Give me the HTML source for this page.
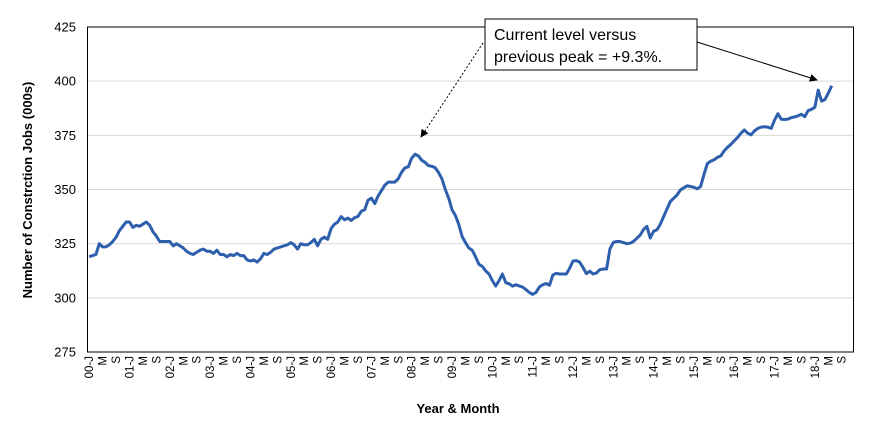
<!DOCTYPE html>
<html><head><meta charset="utf-8"><style>
body{margin:0;background:#fff;}
svg text{font-family:"Liberation Sans",sans-serif;fill:#000;}
</style></head><body>
<svg id="chart" width="870" height="436" viewBox="0 0 870 436" xmlns="http://www.w3.org/2000/svg">
<defs>
<marker id="ah" viewBox="0 0 10 10" refX="9" refY="5" markerWidth="8" markerHeight="8" orient="auto"><path d="M0,0 L10,5 L0,10 z" fill="#000"/></marker>
</defs>
<g id="grid"></g>
<g id="yticks"></g>
<g id="xticks"></g>
<path id="series" fill="none" stroke="#2e5fad" stroke-width="3" stroke-linejoin="round"/>
<rect x="87.5" y="27" width="766" height="325" fill="none" stroke="#000" stroke-width="1"/>
<text transform="translate(32,190) rotate(-90)" text-anchor="middle" font-size="13" font-weight="bold">Number of Constrction Jobs (000s)</text>
<text x="458" y="413" text-anchor="middle" font-size="13" font-weight="bold">Year &amp; Month</text>
<line x1="483" y1="43" x2="421" y2="137" stroke="#000" stroke-width="1" stroke-dasharray="2,2" marker-end="url(#ah)"/>
<line x1="697" y1="42" x2="817" y2="80" stroke="#000" stroke-width="1" marker-end="url(#ah)"/>
<g>
<rect x="485" y="19" width="212" height="51" fill="#fff" stroke="#000" stroke-width="1"/>
<text x="494" y="40" font-size="16">Current level versus</text>
<text x="494" y="62" font-size="16">previous peak =  +9.3%.</text>
</g>
</svg>
<script>
const yTicks=[275,300,325,350,375,400,425];
const yearLabels=["00","01","02","03","04","05","06","07","08","09","10","11","12","13","14","15","16","17","18"];
const monthLabels=["J","M","S"];
const values=[
319,319.5,320,325,323.5,323.5,324.5,326,328,331,333,335,
335,332.5,333.5,333,334,335,333.5,330.5,328.5,326,326,326,
326,324,325,324,323,321.5,320.5,320,321,322,322.5,321.5,
321.5,320.5,322,320,320,319,320,319.5,320.5,319.5,319.5,317.5,
317,317.5,316.5,318,320.5,320,321,322.5,323,323.5,324,324.5,
325.5,324.5,322.5,325,324.5,324.5,325.5,327,324,327,328,327,
332,334,335,337.5,336,336.8,335.7,337,337.6,340,340.7,345,
346,343.5,347,349.5,352,353.4,353.4,353.4,355,358,360,360.5,
364.5,366.3,365.5,363.5,362.5,361,360.7,360,357.8,355,350,346,
340.7,338,334,328.3,325.5,323,322,319,315.5,314.5,312.5,311,
308,305.4,308,311,307,306.5,305.4,306,305.5,305,303.8,302.5,
301.6,302.5,305,306,306.6,305.8,310.5,311.3,311,311,311,313.6,
317,317.2,316.5,314,311.2,312.3,311,311.5,313,313.3,313.3,322.5,
325.6,326,326,325.5,325,325.2,326,327.5,329,331.5,333,327.6,
330.7,331.4,334,337.6,341,344.5,346,347.5,349.8,350.8,351.7,351.4,
351,350.3,351.4,357,362,363,363.7,364.8,365.5,367.8,369.5,370.8,
372.5,374,376,377.5,376,375.2,377,378.2,378.8,379,378.8,378.2,
382,385,382.4,382.3,382.5,383.2,383.5,384,384.7,383.6,386.4,387,
388,395.9,390.8,391.5,394.5,397.9];
const NS="http://www.w3.org/2000/svg";
const L=87.5,R=853.5,T=27,B=352,N=228;
const X=i=>L+(i+0.5)*(R-L)/N;
const Y=v=>B-(v-275)/(425-275)*(B-T);
const grid=document.getElementById('grid'),yt=document.getElementById('yticks'),xt=document.getElementById('xticks');
yTicks.forEach(v=>{
  if(v>275&&v<425){const l=document.createElementNS(NS,'line');
  
  
  l.setAttribute('x1',L);l.setAttribute('x2',R);l.setAttribute('y1',Y(v));l.setAttribute('y2',Y(v));
  l.setAttribute('stroke','#d9d9d9');l.setAttribute('stroke-width','1');grid.appendChild(l);}
  const t=document.createElementNS(NS,'text');
  
  
  t.setAttribute('x',76);t.setAttribute('y',Y(v)+4.5);t.setAttribute('text-anchor','end');t.setAttribute('font-size','13');
  t.textContent=v;yt.appendChild(t);
});
yearLabels.forEach((yr,yi)=>{
  monthLabels.forEach((m,mi)=>{
    const i=yi*12+mi*4;
    const t=document.createElementNS(NS,'text');
    
    
    t.setAttribute('transform','translate('+(X(i)+4)+',356) rotate(-90)');
    t.setAttribute('text-anchor','end');t.setAttribute('font-size','11.5');
    t.textContent=mi===0?yr+'-'+m:m;xt.appendChild(t);
  });
});
document.getElementById('series').setAttribute('d',values.map((v,i)=>(i?'L':'M')+X(i).toFixed(1)+','+Y(v).toFixed(1)).join(' '));
</script>
</body></html>
